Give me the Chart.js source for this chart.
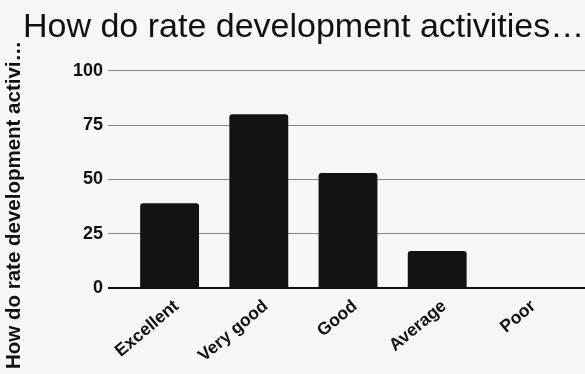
<!DOCTYPE html>
<html>
<head>
<meta charset="utf-8">
<script src="https://cdn.jsdelivr.net/npm/chart.js@4"></script>
<style>
html,body{margin:0;padding:0;background:#f7f7f5;overflow:hidden;}
#wrap{width:585px;height:374px;}
</style>
</head>
<body>
<div id="wrap"><canvas id="c" width="585" height="374"></canvas></div>
<script>
const categories = ["Excellent", "Very good", "Good", "Average", "Poor"];
const responses = [39, 80, 53, 17, 0];
const yTicks = [0, 25, 50, 75, 100];
const chartTitle = "How do rate development activities\u2026";
const yTitle = "How do rate development activi\u2026";

const FONT = 'Liberation Sans, Arial, sans-serif';
const gridColor = (ctx) => ctx.tick && ctx.tick.value === 0 ? '#111' : '#858585';
const gridWidth = (ctx) => ctx.tick && ctx.tick.value === 0 ? 2 : 1;

const yTitlePlugin = {
  id: 'yTitle',
  afterDraw(chart) {
    const ctx = chart.ctx;
    ctx.save();
    ctx.translate(14, 205);
    ctx.rotate(-Math.PI / 2);
    ctx.fillStyle = '#111';
    ctx.font = 'bold 20.5px ' + FONT;
    ctx.textAlign = 'center';
    ctx.textBaseline = 'middle';
    ctx.fillText(yTitle, 0, 0);
    ctx.restore();
  }
};

new Chart(document.getElementById('c'), {
  type: 'bar',
  data: {
    labels: categories,
    datasets: [{
      data: responses,
      yAxisID: 'y',
      backgroundColor: '#131313',
      borderRadius: {topLeft: 3, topRight: 3},
      borderSkipped: 'bottom',
      barPercentage: 0.66,
      categoryPercentage: 1.0
    }]
  },
  plugins: [yTitlePlugin],
  options: {
    responsive: false,
    animation: false,
    layout: {padding: {left: 23, right: 0, top: 0, bottom: 0}},
    plugins: {
      legend: {display: false},
      tooltip: {enabled: false},
      title: {
        display: true,
        text: chartTitle,
        align: 'start',
        color: '#111',
        font: {family: FONT, size: 34, weight: 'normal'},
        padding: {top: 7, bottom: 23}
      }
    },
    scales: {
      x: {
        grid: {display: false, drawTicks: false},
        border: {display: true, color: '#111', width: 2},
        afterFit: (s) => { s.height = 86; },
        ticks: {
          color: '#111',
          font: {family: FONT, size: 17.5, weight: 'bold'},
          maxRotation: 40, minRotation: 40,
          padding: 8,
          labelOffset: 7
        }
      },
      y: {
        position: 'left',
        min: 0, max: 100,
        afterBuildTicks: (axis) => { axis.ticks = yTicks.map(v => ({value: v})); },
        afterFit: (s) => { s.width = 102; },
        grid: {color: gridColor, lineWidth: gridWidth, tickLength: 17},
        border: {display: false},
        ticks: {
          color: '#111',
          font: {family: FONT, size: 18, weight: 'bold'},
          padding: 5
        }
      },
      y2: {
        position: 'right',
        min: 0, max: 100,
        afterBuildTicks: (axis) => { axis.ticks = yTicks.map(v => ({value: v})); },
        grid: {color: gridColor, lineWidth: gridWidth, tickLength: 14, drawOnChartArea: false},
        border: {display: false},
        ticks: {display: false}
      }
    }
  }
});
</script>
</body>
</html>
